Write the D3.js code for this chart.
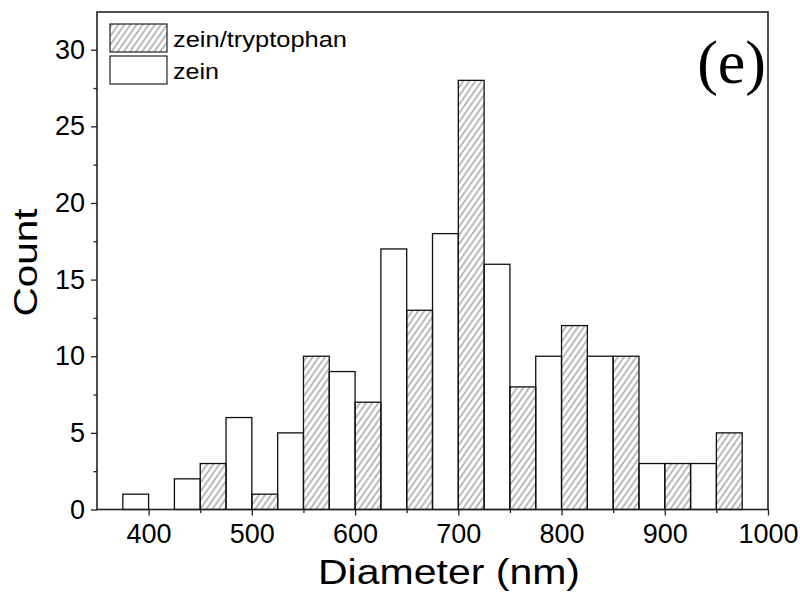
<!DOCTYPE html>
<html>
<head>
<meta charset="utf-8">
<script src="https://cdnjs.cloudflare.com/ajax/libs/d3/7.8.5/d3.min.js"></script>
<style>
    body { margin: 0; background: #fff; }
    svg { display: block; }
    .tick text { font-family: "Liberation Sans", Arial, sans-serif; font-size: 27px; fill: #000; }
    .tick line { stroke: #222; stroke-width: 1.3px; }
</style>
</head>
<body>
<div id="chart"></div>
<script>
// histogram bins (left edge, nm) and counts
var zeinBins = [375, 425, 475, 525, 575, 625, 675, 725, 775, 825, 875, 925];
var zeinCounts = [1, 2, 6, 5, 9, 17, 18, 16, 10, 10, 3, 3];
var ztBins = [400, 450, 500, 550, 600, 650, 700, 750, 800, 850, 900, 950];
var ztCounts = [0, 3, 1, 10, 7, 13, 28, 8, 12, 10, 3, 5];
var binWidth = 25;

var xTicks = [400, 500, 600, 700, 800, 900, 1000];
var xMinorTicks = [450, 550, 650, 750, 850, 950];
var yTicks = [0, 5, 10, 15, 20, 25, 30];
var yMinorTicks = [2.5, 7.5, 12.5, 17.5, 22.5, 27.5];

var seriesNames = ["zein/tryptophan", "zein"];

var width = 800, height = 594;
var plot = {left: 97, right: 768, top: 12, bottom: 509.5};

var svg = d3.select("#chart")
    .append("svg")
    .attr("width", width)
    .attr("height", height);

// hatch pattern for zein/tryptophan bars
svg.append("defs")
    .append("pattern")
    .attr("id", "hatch")
    .attr("patternUnits", "userSpaceOnUse")
    .attr("width", 5)
    .attr("height", 10)
    .attr("patternTransform", "rotate(35)")
    .append("line")
    .attr("x1", 1).attr("y1", 0)
    .attr("x2", 1).attr("y2", 10)
    .style("stroke", "#555")
    .style("stroke-width", 0.8);

var x = d3.scaleLinear().domain([350, 1000]).range([plot.left, plot.right]);
var y = d3.scaleLinear().domain([0, 32.46]).range([plot.bottom, plot.top]);

function barData(bins, counts) {
    var out = [];
    for (var i = 0; i < bins.length; i++) {
        if (counts[i] > 0) out.push({x0: bins[i], count: counts[i]});
    }
    return out;
}

// zein bars (open)
svg.append("g")
    .selectAll("rect")
    .data(barData(zeinBins, zeinCounts))
    .enter().append("rect")
    .attr("x", function (d) { return x(d.x0); })
    .attr("y", function (d) { return y(d.count); })
    .attr("width", function (d) { return x(d.x0 + binWidth) - x(d.x0); })
    .attr("height", function (d) { return y(0) - y(d.count); })
    .style("fill", "#fff")
    .style("stroke", "#111")
    .style("stroke-width", 1.3);

// zein/tryptophan bars (hatched)
svg.append("g")
    .selectAll("rect")
    .data(barData(ztBins, ztCounts))
    .enter().append("rect")
    .attr("x", function (d) { return x(d.x0); })
    .attr("y", function (d) { return y(d.count); })
    .attr("width", function (d) { return x(d.x0 + binWidth) - x(d.x0); })
    .attr("height", function (d) { return y(0) - y(d.count); })
    .style("fill", "url(#hatch)")
    .style("stroke", "#111")
    .style("stroke-width", 1.3);

// axes
var xAxis = svg.append("g")
    .attr("transform", "translate(0," + plot.bottom + ")")
    .call(d3.axisBottom(x).tickValues(xTicks).tickSize(6).tickPadding(8).tickFormat(d3.format("d")));
xAxis.select(".domain").remove();

svg.append("g")
    .attr("transform", "translate(0," + plot.bottom + ")")
    .call(d3.axisBottom(x).tickValues(xMinorTicks).tickSize(3.5).tickFormat(""))
    .select(".domain").remove();

var yAxis = svg.append("g")
    .attr("transform", "translate(" + plot.left + ",0)")
    .call(d3.axisLeft(y).tickValues(yTicks).tickSize(6).tickPadding(6).tickFormat(d3.format("d")));
yAxis.select(".domain").remove();

svg.append("g")
    .attr("transform", "translate(" + plot.left + ",0)")
    .call(d3.axisLeft(y).tickValues(yMinorTicks).tickSize(3.5).tickFormat(""))
    .select(".domain").remove();

// frame
svg.append("rect")
    .attr("x", plot.left)
    .attr("y", plot.top)
    .attr("width", plot.right - plot.left)
    .attr("height", plot.bottom - plot.top)
    .style("fill", "none")
    .style("stroke", "#222")
    .style("stroke-width", 1.6);

// axis titles
svg.append("text")
    .attr("x", 449)
    .attr("y", 584)
    .attr("text-anchor", "middle")
    .attr("textLength", 262)
    .attr("lengthAdjust", "spacingAndGlyphs")
    .style("font-family", "Liberation Sans, Arial, sans-serif")
    .style("font-size", "35px")
    .text("Diameter (nm)");

svg.append("text")
    .attr("transform", "translate(37,262.5) rotate(-90)")
    .attr("text-anchor", "middle")
    .attr("textLength", 108)
    .attr("lengthAdjust", "spacingAndGlyphs")
    .style("font-family", "Liberation Sans, Arial, sans-serif")
    .style("font-size", "34px")
    .text("Count");

// panel label
svg.append("text")
    .attr("x", 766)
    .attr("y", 83)
    .attr("text-anchor", "end")
    .style("font-family", "Liberation Serif, Times New Roman, serif")
    .style("font-size", "62px")
    .text("(e)");

// legend
var legend = svg.append("g");
var legendFills = ["url(#hatch)", "#fff"];
var legendRows = [24, 56];
var legendLengths = [174, 46];
seriesNames.forEach(function (name, i) {
    legend.append("rect")
        .attr("x", 110)
        .attr("y", legendRows[i])
        .attr("width", 57)
        .attr("height", 28)
        .style("fill", legendFills[i])
        .style("stroke", "#222")
        .style("stroke-width", 1.2);
    legend.append("text")
        .attr("x", 173)
        .attr("y", legendRows[i] + 22.5)
        .attr("textLength", legendLengths[i])
        .attr("lengthAdjust", "spacingAndGlyphs")
        .style("font-family", "Liberation Sans, Arial, sans-serif")
        .style("font-size", "22px")
        .text(name);
});
</script>
</body>
</html>
